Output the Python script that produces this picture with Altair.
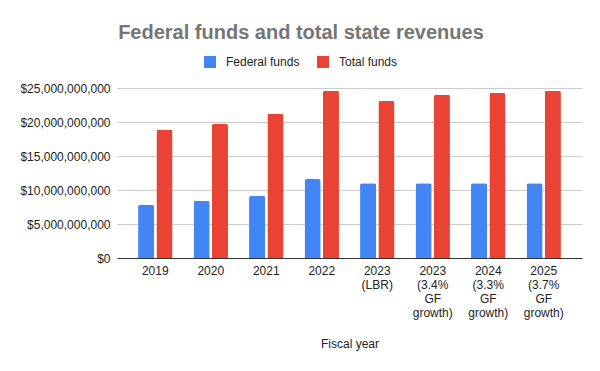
import altair as alt
import pandas as pd

years = ["2019", "2020", "2021", "2022", "2023\n(LBR)", "2023\n(3.4%\nGF\ngrowth)",
         "2024\n(3.3%\nGF\ngrowth)", "2025\n(3.7%\nGF\ngrowth)"]
series = ["Federal funds", "Total funds"]
federal = [7.8e9, 8.4e9, 9.1e9, 11.6e9, 11.0e9, 11.0e9, 11.0e9, 11.0e9]
total = [18.9e9, 19.7e9, 21.2e9, 24.6e9, 23.1e9, 24.0e9, 24.3e9, 24.6e9]
colors = ["#4285F4", "#EA4335"]

rows = []
for y, f, t in zip(years, federal, total):
    rows.append({"year": y, "series": series[0], "value": f})
    rows.append({"year": y, "series": series[1], "value": t})
df = pd.DataFrame(rows)

FONT = "Liberation Sans"

chart = alt.Chart(df).mark_bar(cornerRadiusTopLeft=2, cornerRadiusTopRight=2).encode(
    x=alt.X("year:N", sort=years,
            scale=alt.Scale(paddingInner=0.38, paddingOuter=0.38),
            axis=alt.Axis(title="Fiscal year", labelAngle=0, ticks=False,
                          labelExpr="split(datum.value, '\\n')",
                          labelLineHeight=14, labelPadding=7,
                          labelFontSize=12, labelColor="#222222", labelFont=FONT,
                          domainColor="#333333", domainWidth=1,
                          titleFontSize=12, titleFontWeight="normal",
                          titleColor="#222222", titleFont=FONT, titlePadding=20)),
    xOffset=alt.XOffset("series:N", sort=series, scale=alt.Scale(paddingInner=0.12)),
    y=alt.Y("value:Q", scale=alt.Scale(domain=[0, 25e9]),
            axis=alt.Axis(title=None, values=[0, 5e9, 10e9, 15e9, 20e9, 25e9],
                          format="$,.0f", ticks=False, domain=False,
                          labelPadding=7, labelFontSize=12, labelColor="#222222",
                          labelFont=FONT, gridColor="#cccccc")),
    color=alt.Color("series:N", sort=series,
                    scale=alt.Scale(domain=series, range=colors),
                    legend=alt.Legend(title=None, orient="none", legendX=87, legendY=-32,
                                      direction="horizontal", symbolType="square",
                                      symbolSize=144, symbolStrokeWidth=0,
                                      labelFontSize=12, labelColor="#222222",
                                      labelFont=FONT, labelOffset=10, columnPadding=17)),
).properties(
    width=465, height=170,
    title=alt.TitleParams("Federal funds and total state revenues", fontSize=20,
                          fontWeight="bold", color="#757575", font=FONT,
                          frame="bounds", anchor="middle", offset=13),
    autosize=alt.AutoSizeParams(type="none"),
    padding={"left": 109, "top": 80, "right": 10, "bottom": 100},
).configure_view(stroke=None)

chart.save("out.html", embed_options={"renderer": "svg", "actions": False})
